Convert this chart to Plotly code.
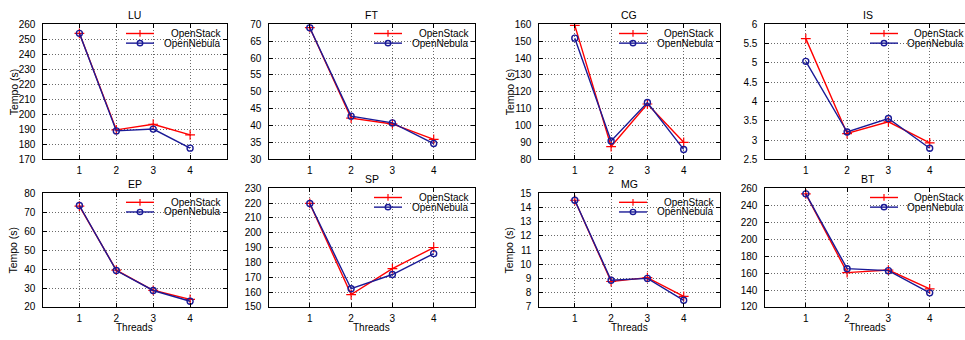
import plotly.graph_objects as go

# ---------------- data ----------------
THREADS = [1, 2, 3, 4]
PANELS = ["LU", "FT", "CG", "IS", "EP", "SP", "MG", "BT"]

LU_stack = [254.0, 189.7, 193.4, 186.3]
LU_nebula = [254.0, 189.0, 190.2, 177.5]
FT_stack = [69.0, 42.2, 40.5, 35.9]
FT_nebula = [69.0, 42.8, 40.8, 34.7]
CG_stack = [159.4, 87.6, 112.8, 90.1]
CG_nebula = [151.8, 90.9, 113.7, 85.9]
IS_stack = [5.63, 3.17, 3.475, 2.93]
IS_nebula = [5.04, 3.21, 3.56, 2.79]
EP_stack = [73.2, 39.4, 28.8, 24.0]
EP_nebula = [73.5, 39.2, 28.7, 23.0]
SP_stack = [219.8, 158.4, 175.8, 190.1]
SP_nebula = [219.8, 162.3, 171.9, 186.0]
MG_stack = [14.5, 8.79, 9.06, 7.75]
MG_nebula = [14.5, 8.88, 9.01, 7.47]
BT_stack = [253.5, 160.6, 163.6, 141.3]
BT_nebula = [253.5, 165.2, 162.9, 136.7]

STACK = {"LU": LU_stack, "FT": FT_stack, "CG": CG_stack, "IS": IS_stack,
         "EP": EP_stack, "SP": SP_stack, "MG": MG_stack, "BT": BT_stack}
NEBULA = {"LU": LU_nebula, "FT": FT_nebula, "CG": CG_nebula, "IS": IS_nebula,
          "EP": EP_nebula, "SP": SP_nebula, "MG": MG_nebula, "BT": BT_nebula}

# y axis: (min, max, step)
YAXES = {"LU": (170, 260, 10), "FT": (30, 70, 5), "CG": (80, 160, 10), "IS": (2.5, 6, 0.5),
         "EP": (20, 80, 10), "SP": (150, 230, 10), "MG": (7, 15, 1), "BT": (120, 260, 20)}

SERIES_NAMES = ["OpenStack", "OpenNebula"]
YLABEL = "Tempo (s)"
XLABEL = "Threads"

# ---------------- layout geometry (pixels) ----------------
W, H = 965, 340
FONT = "Liberation Sans, Arial, Helvetica, sans-serif"
RED = "#ff0000"
BLUE = "#1a1a96"

COLS = [(42.5, 227.0), (268.5, 475.0), (538.5, 720.0), (764.5, 971.0)]


def fx(p):
    return p / W


def fy(p):
    return 1 - p / H


fig = go.Figure()
shapes = []
annotations = []

for i, name in enumerate(PANELS):
    row, col = divmod(i, 4)
    L, R = COLS[col]
    has_ylabel = col in (0, 2)
    if row == 0:
        T, B = 19.0, 159.0
    else:
        T, B = (194.0 if has_ylabel else 189.0), 312.0
    Rvis = min(R, W)
    xmax = 5 * (Rvis - L) / (R - L)
    idx = "" if i == 0 else str(i + 1)
    xa, ya = "x" + idx, "y" + idx

    fig.add_trace(go.Scatter(
        x=THREADS, y=STACK[name], mode="lines+markers", name=SERIES_NAMES[0],
        xaxis=xa, yaxis=ya, showlegend=False,
        line=dict(color=RED, width=1.4),
        marker=dict(symbol="cross-thin", size=7, line=dict(color=RED, width=1.2))))
    fig.add_trace(go.Scatter(
        x=THREADS, y=NEBULA[name], mode="lines+markers", name=SERIES_NAMES[1],
        xaxis=xa, yaxis=ya, showlegend=False,
        line=dict(color=BLUE, width=1.4),
        marker=dict(symbol="circle-open", size=6, line=dict(color=BLUE, width=1.4))))

    ymin, ymax, ystep = YAXES[name]
    n = int(round((ymax - ymin) / ystep))
    yticks = [ymin + k * ystep for k in range(n + 1)]

    common = dict(showline=True, linecolor="black", linewidth=1.2,
                  ticks="inside", ticklen=4, tickcolor="black", tickwidth=1,
                  showgrid=True, gridcolor="#6a6a6a", griddash="1px,2px", gridwidth=1,
                  zeroline=False, tickfont=dict(family=FONT, size=10, color="black"))
    fig.layout["xaxis" + idx] = dict(
        domain=[fx(L), fx(Rvis)], anchor=ya, range=[0, xmax],
        tickvals=THREADS, ticktext=[str(t) for t in THREADS],
        mirror="ticks", ticklabelstandoff=2, **common)
    fig.layout["yaxis" + idx] = dict(
        domain=[fy(B), fy(T)], anchor=xa, range=[ymin, ymax],
        tickvals=yticks, ticktext=[f"{v:g}" for v in yticks],
        mirror="ticks" if R <= W else False, ticklabelstandoff=4, **common)

    # panel title
    annotations.append(dict(text=name, xref="paper", yref="paper",
                            x=fx((L + R) / 2), y=fy(T - 1), xanchor="center", yanchor="bottom",
                            showarrow=False, font=dict(family=FONT, size=10.5, color="black")))
    if has_ylabel:
        annotations.append(dict(text=YLABEL, xref="paper", yref="paper",
                                x=fx(L - 29), y=fy((T + B) / 2), xanchor="center", yanchor="middle",
                                textangle=-90, showarrow=False,
                                font=dict(family=FONT, size=10.5, color="black")))
    if row == 1:
        annotations.append(dict(text=XLABEL, xref="paper", yref="paper",
                                x=fx((L + R) / 2), y=fy(B + 21.5), xanchor="center", yanchor="middle",
                                showarrow=False, borderpad=0,
                                font=dict(family=FONT, size=10, color="black")))

    # key (gnuplot-style, top right inside)
    shapes.append(dict(type="rect", xref="paper", yref="paper", layer="between",
                       x0=fx(R - 104), x1=fx(min(R, W) - 1), y0=fy(T + 25), y1=fy(T + 1),
                       fillcolor="white", line=dict(width=0)))
    for k, (sname, color) in enumerate(zip(SERIES_NAMES, [RED, BLUE])):
        yy = T + 9.5 + 10 * k
        shapes.append(dict(type="line", xref="paper", yref="paper",
                           x0=fx(R - 101), x1=fx(R - 73), y0=fy(yy), y1=fy(yy),
                           line=dict(color=color, width=1.4)))
        cx = R - 87
        if k == 0:
            shapes.append(dict(type="line", xref="paper", yref="paper",
                               x0=fx(cx), x1=fx(cx), y0=fy(yy - 3.5), y1=fy(yy + 3.5),
                               line=dict(color=color, width=1.2)))
        else:
            shapes.append(dict(type="circle", xref="paper", yref="paper",
                               x0=fx(cx - 2.7), x1=fx(cx + 2.7), y0=fy(yy + 2.7), y1=fy(yy - 2.7),
                               line=dict(color=color, width=1.4), fillcolor="rgba(0,0,0,0)"))
        annotations.append(dict(text=sname, xref="paper", yref="paper",
                                x=fx(R - 5.5), y=fy(yy), xanchor="right", yanchor="middle",
                                showarrow=False, borderpad=0,
                                font=dict(family=FONT, size=10, color="black")))

fig.update_layout(width=W, height=H, margin=dict(l=0, r=0, t=0, b=0),
                  paper_bgcolor="white", plot_bgcolor="white",
                  shapes=shapes, annotations=annotations, showlegend=False)

fig.write_html("out.html")
